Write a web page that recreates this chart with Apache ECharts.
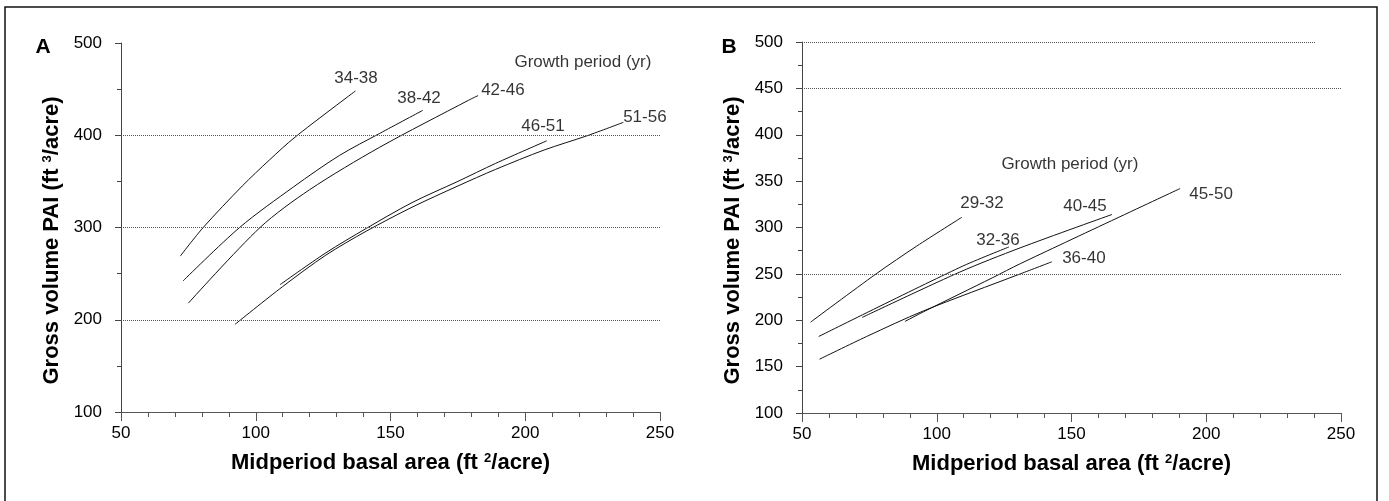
<!DOCTYPE html>
<html><head><meta charset="utf-8">
<script src="https://cdn.jsdelivr.net/npm/echarts@6/dist/echarts.min.js"></script>
<style>html,body{margin:0;padding:0;background:#fff}#c{width:1389px;height:501px}</style>
</head><body><div id="c"></div>
<script>
// ---------- Panel A data (x = midperiod basal area, y = gross volume PAI) ----------
const curveA_34_38 = [[72,269],[80.5,300],[95,345],[105,373],[114.6,398],[137,448]];
const curveA_38_42 = [[73,242],[94,300],[114,344],[131,378],[146,402],[162,427]];
const curveA_42_46 = [[75,218],[101.6,300],[120,341],[146,387],[179,438],[182.5,443]];
const curveA_46_51 = [[109,238],[126,272.5],[141,299],[158,327],[175,350],[189,369.5],[208,394]];
const curveA_51_56 = [[92.3,195],[110,236],[126,270],[141,296],[158,322],[175,345],[189,363],[207,384],[223,399.5],[236.4,414]];
// ---------- Panel B data ----------
const curveB_29_32 = [[53.2,198],[77.5,250],[92.6,280],[109.3,311]];
const curveB_32_36 = [[56.2,182.5],[108.6,257],[126.8,279]];
const curveB_36_40 = [[56.5,158],[74,182.5],[95,210],[131,250],[142.7,263]];
const curveB_40_45 = [[72.3,203],[108.6,252],[130.9,278],[165,314]];
const curveB_45_50 = [[88.2,198.7],[95,209],[120.8,246],[131,261],[190.3,342]];

// curve labels: [text, x, y] in data units
const labelsA = [['34-38',137.2,462],['38-42',160.6,440],['42-46',191.7,449],['46-51',206.6,410],['51-56',244.4,419.6],['Growth period (yr)',221.4,479]];
const labelsB = [['29-32',116.8,326],['32-36',122.7,286],['40-45',155,322.7],['45-50',201.8,335.7],['36-40',154.6,266.5],['Growth period (yr)',149.4,368]];

// axis ranges / ticks
const xMin = 50, xMax = 250, xStep = 50;
const yMin = 100, yMax = 500, yStepA = 100, yStepB = 50;
// dotted reference lines: [y, x end]
const gridLinesA = [[200,250],[300,250],[400,250]];
const gridLinesB = [[250,250],[450,250],[500,240.7]];

const FONT = "'Liberation Sans', Arial, sans-serif";
const chart = echarts.init(document.getElementById('c'), null, {renderer:'canvas'});

function lineSeries(data, gi){
  return {type:'line', data, xAxisIndex:gi, yAxisIndex:gi, smooth:0.3, symbol:'none', showSymbol:false,
    lineStyle:{color:'#111', width:1}, silent:true, animation:false, z:3};
}
function labelSeries(labels, gi){
  return {type:'scatter', xAxisIndex:gi, yAxisIndex:gi, symbolSize:0, silent:true, animation:false,
    data: labels.map(l=>({name:l[0], value:[l[1],l[2]]})),
    label:{show:true, position:'inside', formatter:'{b}', color:'#000', fontSize:17, fontFamily:FONT}};
}
function refLines(lines, gi){
  return {type:'line', data:[], xAxisIndex:gi, yAxisIndex:gi, silent:true, animation:false,
    markLine:{silent:true, symbol:['none','none'], label:{show:false}, animation:false,
      lineStyle:{type:'dotted', color:'#555', width:1},
      data: lines.map(l=>[{coord:[xMin,l[0]]},{coord:[l[1],l[0]]}])}};
}
const supRich = {s:{fontSize:13, fontWeight:'bold', color:'#000', fontFamily:FONT, verticalAlign:'top'}};
const xNameStyle = {fontSize:22, fontWeight:'bold', color:'#000', fontFamily:FONT, rich:supRich};
const yNameStyle = {fontSize:22, fontWeight:'bold', color:'#000', fontFamily:FONT, rich:supRich, padding:[0,26,0,0]};
function xAx(gi){
  return {type:'value', gridIndex:gi, min:xMin, max:xMax, interval:xStep,
    axisLine:{show:true, onZero:false, lineStyle:{color:'#555', width:1}},
    axisTick:{show:true, length:9, lineStyle:{color:'#555'}},
    minorTick:{show:true, splitNumber:5, length:5, lineStyle:{color:'#555'}},
    axisLabel:{fontSize:17, color:'#000', margin:13, fontFamily:FONT},
    splitLine:{show:false}, minorSplitLine:{show:false},
    name:'Midperiod basal area (ft {s|2}/acre)', nameLocation:'middle', nameGap:40, nameTextStyle:xNameStyle};
}
function yAx(gi, step){
  return {type:'value', gridIndex:gi, min:yMin, max:yMax, interval:step,
    axisLine:{show:true, onZero:false, lineStyle:{color:'#444', width:1}},
    axisTick:{show:true, length:6, lineStyle:{color:'#444'}},
    minorTick:{show:true, splitNumber:2, length:4, lineStyle:{color:'#444'}},
    axisLabel:{fontSize:17, color:'#000', margin:19, fontFamily:FONT},
    splitLine:{show:false}, minorSplitLine:{show:false},
    name:'Gross volume PAI (ft {s|3}/acre)', nameLocation:'middle', nameRotate:90, nameGap:58, nameTextStyle:yNameStyle};
}

chart.setOption({
  animation:false,
  backgroundColor:'#fff',
  grid:[{left:121, top:43, width:539, height:369},{left:802, top:42, width:539, height:371}],
  xAxis:[xAx(0), xAx(1)],
  yAxis:[yAx(0, yStepA), yAx(1, yStepB)],
  series:[
    refLines(gridLinesA,0), refLines(gridLinesB,1),
    lineSeries(curveA_34_38,0), lineSeries(curveA_38_42,0), lineSeries(curveA_42_46,0),
    lineSeries(curveA_46_51,0), lineSeries(curveA_51_56,0),
    lineSeries(curveB_29_32,1), lineSeries(curveB_32_36,1), lineSeries(curveB_36_40,1),
    lineSeries(curveB_40_45,1), lineSeries(curveB_45_50,1),
    labelSeries(labelsA,0), labelSeries(labelsB,1)
  ],
  graphic:[
    {type:'rect', shape:{x:5, y:7, width:1372, height:520}, style:{fill:null, stroke:'#111', lineWidth:1.5}, silent:true},
    {type:'text', x:43, y:47, style:{text:'A', fontSize:21, fontWeight:'bold', fontFamily:FONT, fill:'#000', align:'center', verticalAlign:'middle'}},
    {type:'text', x:729, y:47, style:{text:'B', fontSize:21, fontWeight:'bold', fontFamily:FONT, fill:'#000', align:'center', verticalAlign:'middle'}}
  ]
});
</script></body></html>
